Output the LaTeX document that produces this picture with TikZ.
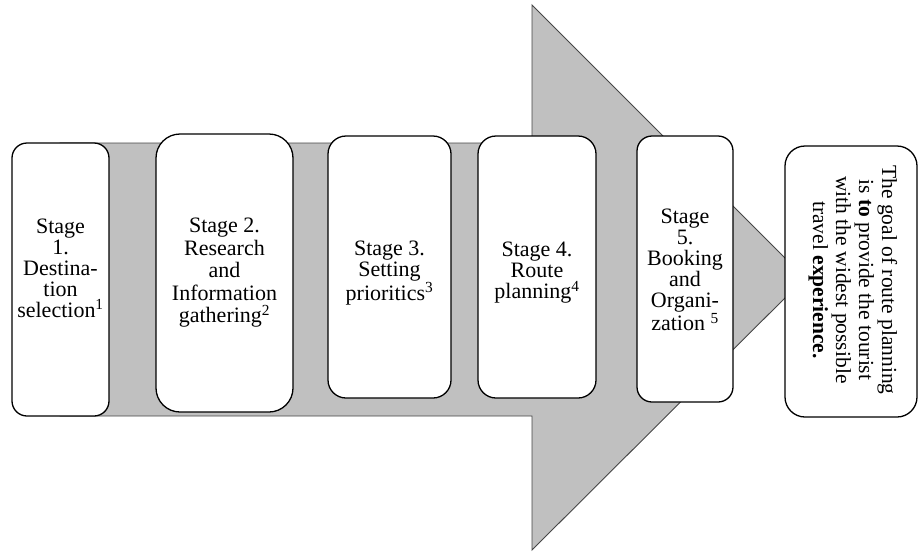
\documentclass[tikz,border=0pt]{standalone}
\usepackage{fontspec}
\setmainfont{Liberation Serif}
\begin{document}
\begin{tikzpicture}[x=1pt,y=-1pt,
  arrowshape/.style={fill={rgb,255:red,192;green,192;blue,192}, draw={rgb,255:red,70;green,70;blue,70}, line width=0.9pt, line join=miter},
  stagebox/.style={draw=black, fill=white, line width=1.3pt, rectangle, inner sep=0pt},
  stagetext/.style={align=center, inner sep=0pt, font=\fontsize{22}{21}\selectfont},
  goaltext/.style={align=center, inner sep=0pt, rotate=-90, font=\fontsize{21.5}{23}\selectfont}
]
\useasboundingbox (0,0) rectangle (918,552);
% big arrow
\path[arrowshape] (60,143) -- (532,143) -- (532,5) -- (805,278) -- (532,550) -- (532,416) -- (60,416) -- cycle;
% stage boxes
\node[stagebox, rounded corners=15pt, minimum width=97pt, minimum height=273pt] (b1) at (60.5,279.5) {};
\node[stagebox, rounded corners=24pt, minimum width=137pt, minimum height=278pt] (b2) at (224.5,273) {};
\node[stagebox, rounded corners=18pt, minimum width=123pt, minimum height=262pt] (b3) at (389.5,267) {};
\node[stagebox, rounded corners=18pt, minimum width=118pt, minimum height=262pt] (b4) at (537,267) {};
\node[stagebox, rounded corners=15pt, minimum width=96pt, minimum height=266pt] (b5) at (685,269) {};
\node[stagebox, rounded corners=20pt, minimum width=132pt, minimum height=271pt] (g) at (851,281.5) {};
% texts
\node[stagetext] (t1) at (60.5,268) {Stage\\1.\\Destina-\\tion\\selection\textsuperscript{1}};
\node[stagetext, font=\fontsize{22}{22.5}\selectfont] (t2) at (224.5,273) {Stage 2.\\Research\\and\\Information\\gathering\textsuperscript{2}};
\node[stagetext] (t3) at (389.5,273) {Stage 3.\\Setting\\prioritics\textsuperscript{3}};
\node[stagetext] (t4) at (537,273) {Stage 4.\\Route\\planning\textsuperscript{4}};
\node[stagetext] (t5) at (685,270) {Stage\\5.\\Booking\\and\\Organi-\\zation \textsuperscript{5}};
\node[goaltext] (tg) at (853,280) {The goal of route planning\\is \textbf{to} provide the tourist\\with the widest possible\\travel \textbf{experience.}};
\end{tikzpicture}
\end{document}
